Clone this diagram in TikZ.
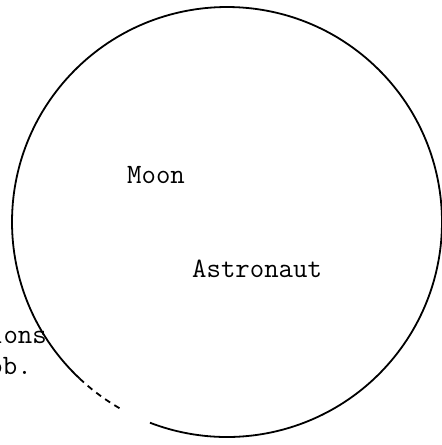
\documentclass[tikz,border=0pt]{standalone}
\usepackage{fontspec}
\begin{document}
\begin{tikzpicture}[x=1pt,y=-1pt,
    label text/.style={inner sep=0pt,font=\ttfamily\fontsize{28}{32}\selectfont},
    rim/.style={line width=1.8pt}]
    \useasboundingbox (0,0) rectangle (442,445);
    \clip (0,0) rectangle (442,445);

    % Moon outline
    \coordinate (centre) at (227,222);
    \draw[rim] ([shift={(133.3:215)}]centre) arc[start angle=133.3,end angle=471,radius=215];
    \draw[rim,dash pattern=on 6pt off 5pt] ([shift={(120:215)}]centre) arc[start angle=120,end angle=133.3,radius=215];

    % labels
    \node[label text,anchor=base west] (moon) at (127,183) {Moon};
    \node[label text,anchor=base west] (astro) at (192,277) {Astronaut};

    % cut-off text at the left edge
    \node[label text,anchor=base east] (ions) at (47,343) {ions};
    \node[label text,anchor=base east] (prob) at (32,374) {ob.};
\end{tikzpicture}
\end{document}
